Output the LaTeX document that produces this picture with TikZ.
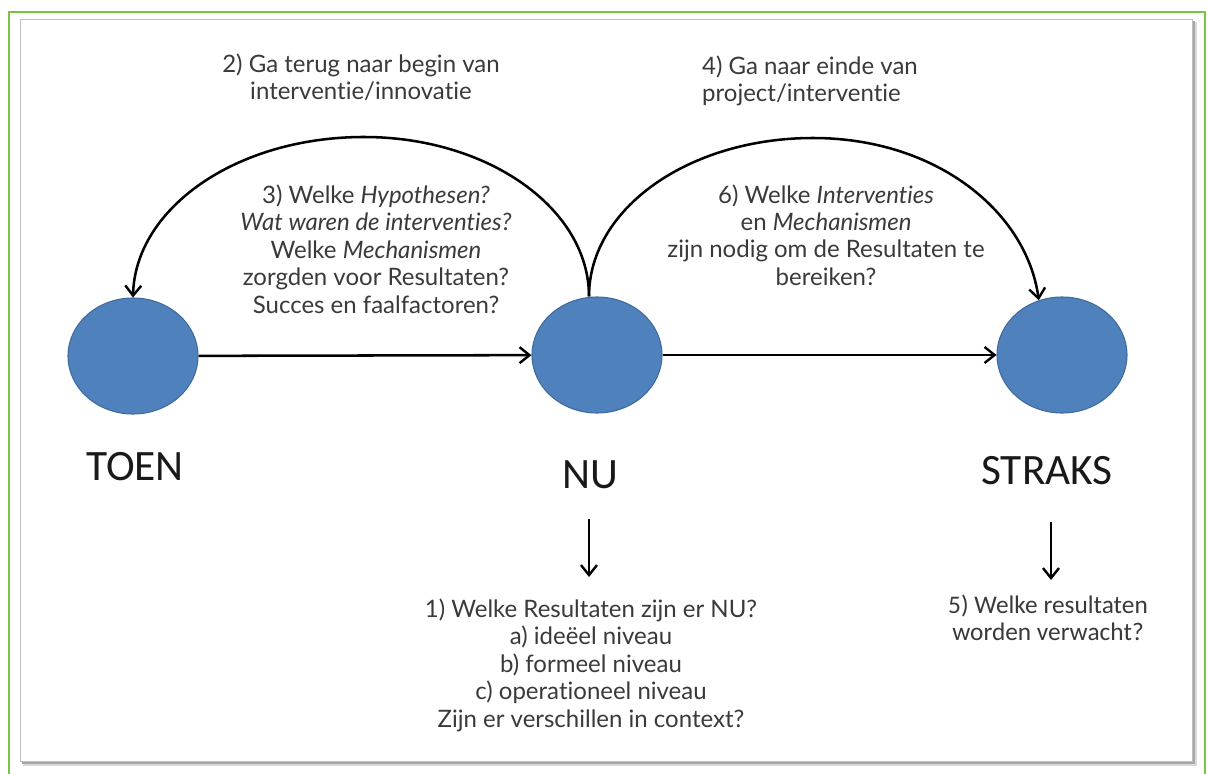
\documentclass[tikz,border=0pt]{standalone}
\usepackage{fontspec}
\setmainfont{Lato}[Ligatures={NoCommon,NoRare,NoDiscretionary}]
\newfontfamily\labfont{Carlito}
\usetikzlibrary{shapes.geometric,arrows.meta}
\definecolor{frame}{HTML}{7DC242}
\definecolor{blob}{HTML}{4F81BD}
\definecolor{blobedge}{HTML}{3F6A9C}
\definecolor{txt}{HTML}{3A3A3A}
\tikzset{
  blobnode/.style={ellipse, fill=blob, draw=blobedge, line width=0.8pt, minimum width=97.5pt, minimum height=87pt, inner sep=0pt},
  qtext/.style={align=center, text=txt, font=\fontsize{18}{20.6}\selectfont, inner sep=0pt},
  ctext/.style={align=center, text=txt, font=\labfont\fontsize{19}{20.6}\selectfont, inner sep=0pt},
  lab/.style={text=black!90, font=\labfont\fontsize{32.5}{36}\selectfont, inner sep=0pt},
  arr/.style={-{Straight Barb[length=7.5pt,width=12pt,line width=1.8pt]}, line width=1.9pt, black}
}
\begin{document}
\begin{tikzpicture}[x=0.75pt,y=-0.75pt]
\useasboundingbox (0,0) rectangle (1208,774);
\fill[white] (0,0) rectangle (1208,774);
% green frame
\draw[frame, line width=1.6pt] (9,774) -- (9,12) -- (1205,12) -- (1205,774);
% panel with shadow
\fill[black!15] (23,22) rectangle (1197,766);
\fill[black!35] (22,21) rectangle (1195,764);
\fill[white] (20,19) rectangle (1192,761);
\draw[black!25, line width=0.6pt] (20,19) rectangle (1192,761);

% circles
\node[blobnode] (toen) at (133,356) {};
\node[blobnode] (nu) at (597,355) {};
\node[blobnode] (straks) at (1062,355) {};

% labels
\node[lab] (toenl) at (135,467) {TOEN};
\node[lab] (nul) at (590,475) {NU};
\node[lab] (straksl) at (1047,471) {STRAKS};

% horizontal arrows
\draw[arr] (toen) -- (nu);
\draw[arr] (nu) -- (straks);

% arcs (elliptical, two quarter segments each)
\coordinate (nutop) at ([xshift=-6pt]nu.north);
\coordinate (p1) at (364,137);
\coordinate (p2) at (813,138);
\draw[arr] (nutop) .. controls +(0,-88) and +(124,0) .. (p1)
                   .. controls +(-128,0) and +(2,-89) .. (toen.north);
\draw[arr] (nutop) .. controls +(0,-88) and +(-124,0) .. (p2)
                   .. controls +(124,0) and +(-12,-88) .. (straks.113);

% top texts
\node[qtext] (t2) at (361,77) {2) Ga terug naar begin van\\interventie/innovatie};
\node[qtext, align=left] (t4) at (810,81) {4) Ga naar einde van\\project/interventie};

% arc texts
\node[qtext] (t3) at (376,249) {3) Welke \textit{Hypothesen?}\\\textit{Wat waren de interventies?}\\Welke \textit{Mechanismen}\\zorgden voor Resultaten?\\Succes en faalfactoren?};
\node[qtext] (t6) at (826,235) {6) Welke \textit{Interventies}\\en \textit{Mechanismen}\\zijn nodig om de Resultaten te\\bereiken?};

% bottom texts
\node[qtext] (t1) at (591,665) {1) Welke Resultaten zijn er NU?\\a) ideëel niveau\\b) formeel niveau\\c) operationeel niveau\\Zijn er verschillen in context?};
\node[ctext] (t5) at (1048,618) {5) Welke resultaten\\worden verwacht?};

% down arrows
\coordinate (d1a) at (589,519);
\coordinate (d1b) at (589,577);
\coordinate (d2a) at (1051,522);
\coordinate (d2b) at (1051,580);
\draw[arr] (d1a) -- (d1b);
\draw[arr] (d2a) -- (d2b);
\end{tikzpicture}
\end{document}
